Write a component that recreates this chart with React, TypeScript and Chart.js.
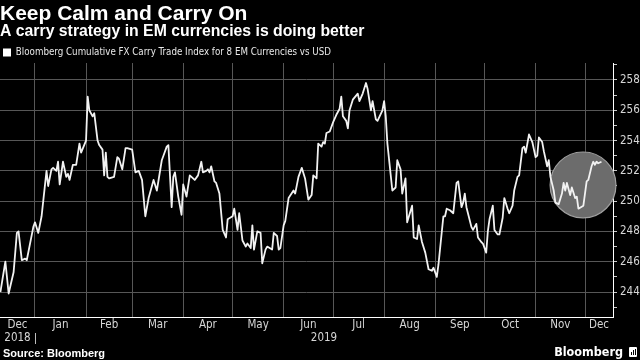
import React, { useEffect, useRef } from "react";
import { Chart, registerables } from "chart.js";

Chart.register(...registerables);

const TITLE = "Keep Calm and Carry On";
const SUBTITLE = "A carry strategy in EM currencies is doing better";
const SERIES_NAME = "Bloomberg Cumulative FX Carry Trade Index for 8 EM Currencies vs USD";
const SOURCE = "Source: Bloomberg";
const BRAND = "Bloomberg";

// x values: days since 2019-01-01 (negative = December 2018)
const dayOffsets = [
  -21, -18, -16, -13, -11, -10, -8, -6, -5, -1, 0, 2, 4, 7, 8, 10, 11, 13, 14, 15, 17, 19, 20, 21, 23, 25, 27, 28,
  31, 32, 33, 35, 36, 38, 39, 41, 42, 43, 44, 45, 48, 50, 51, 53, 55, 56, 59, 61, 63, 65, 67, 69, 72, 74, 77, 78,
  80, 81, 83, 84, 85, 87, 89, 90, 92, 94, 95, 97, 99, 101, 102, 104, 105, 106, 107, 109, 110, 112, 114, 116, 117,
  120, 121, 123, 124, 126, 128, 129, 131, 132, 133, 135, 137, 138, 140, 141, 144, 145, 147, 148, 149, 151, 152,
  154, 157, 158, 160, 162, 164, 166, 168, 169, 171, 172, 174, 175, 176, 177, 179, 181, 183, 185, 186, 187, 189,
  190, 191, 193, 196, 197, 199, 201, 202, 204, 205, 207, 208, 211, 212, 213, 214, 217, 219, 220, 222, 223, 225,
  226, 229, 230, 232, 233, 235, 237, 239, 241, 242, 244, 245, 248, 249, 250, 252, 254, 256, 257, 259, 260, 261,
  262, 265, 266, 268, 269, 271, 272, 274, 275, 276, 278, 279, 281, 282, 284, 285, 287, 288, 290, 291, 293, 294,
  296, 297, 298, 300, 302, 303, 304, 305, 306, 308, 309, 311, 312, 313, 315, 316, 318, 320, 321, 322, 323, 325,
  326, 328, 329, 330, 333, 335, 336, 338, 339, 340, 341, 342, 344,
];

const indexValues = [
  244.0, 246.0, 243.9, 245.3, 247.9, 248.0, 246.1, 246.2, 246.1, 248.3, 248.6, 247.9, 249.0, 252.0, 251.0, 252.1,
  252.2, 252.0, 252.6, 251.1, 252.6, 251.6, 251.8, 251.4, 252.4, 252.4, 253.8, 253.2,
  254.0, 256.9, 256.0, 255.6, 255.8, 254.0, 253.7, 253.4, 251.7, 253.2, 251.6, 251.5, 251.6, 252.9, 252.8, 252.1,
  253.5, 253.5, 253.4, 251.9, 252.0, 251.4, 249.0, 250.2, 251.4, 250.7, 252.7, 253.0,
  253.6, 253.7, 249.6, 251.6, 251.9, 250.3, 249.1, 251.1, 250.3, 251.7, 251.6, 251.4, 251.7, 252.6, 251.9, 252.0,
  252.1, 251.9, 252.3, 251.3, 251.2, 250.5, 248.1, 247.6, 248.8,
  249.0, 249.5, 248.1, 249.2, 247.4, 247.0, 247.2, 246.9, 248.4, 246.8, 248.0, 247.9, 245.9, 246.8, 247.0, 246.8,
  247.9, 247.7, 246.8, 246.9, 248.4, 248.7,
  250.2, 250.7, 250.5, 251.6, 252.2, 251.5, 250.1, 250.4, 251.7, 251.5, 253.8, 253.6, 253.9, 253.8, 254.5, 254.6,
  255.2, 255.7, 256.1, 256.9, 255.6, 255.3,
  254.8, 256.0, 256.7, 257.1, 256.6, 257.1, 257.8, 257.4, 256.0, 256.6, 255.4, 255.3, 256.0, 256.6, 255.6, 253.8,
  250.7, 250.9, 252.7, 252.1, 250.5, 251.5,
  248.6, 249.7, 247.6, 247.5, 248.4, 247.3, 246.6, 245.5, 245.4, 245.6, 245.0, 245.8, 249.0, 249.0, 249.5, 249.4,
  249.2, 251.2, 251.3, 249.6, 249.9, 250.5,
  249.6, 248.3, 248.1, 248.5, 247.6, 247.3, 247.2, 246.6, 248.0, 248.8, 249.7, 248.1, 247.8, 247.8, 248.9, 250.2,
  249.5, 249.2, 249.7, 250.7, 251.6, 251.7,
  253.5, 253.6, 253.2, 254.4, 253.9, 253.4, 252.9, 253.0, 254.2, 253.9, 253.3, 252.3, 252.7, 251.6, 250.7, 249.9,
  249.8, 250.5, 251.2, 250.7, 251.2, 250.4,
  250.9, 250.2, 250.3, 249.5, 249.7, 251.3, 251.4, 252.3, 252.6, 252.4, 252.6, 252.5, 252.6,
];

// first day of each month of 2019, as days since 2019-01-01
const monthStarts = [0, 31, 59, 90, 120, 151, 181, 212, 243, 273, 304, 334];
const monthNames = ["Dec", "Jan", "Feb", "Mar", "Apr", "May", "Jun", "Jul", "Aug", "Sep", "Oct", "Nov", "Dec"];
const yearNames = ["2018", "2019"];
const X_MIN = -21.25;
const X_MAX = 351;

const Y_MIN = 242.35;
const Y_MAX = 259.12;
const yTickValues = [243, 244, 245, 246, 247, 248, 249, 250, 251, 252, 253, 254, 255, 256, 257, 258, 259];

// highlighted region (data units)
const highlightCenterDay = 332.8;
const highlightCenterValue = 251.07;
const highlightRadiusDays = 20;

const NARROW = '"Liberation Sans Narrow", "Arial Narrow", "DejaVu Sans Condensed", sans-serif';
const SANS = '"Liberation Sans", Arial, sans-serif';
const GRID = "#575757";

export default function App() {
  const canvasRef = useRef<HTMLCanvasElement | null>(null);

  useEffect(() => {
    if (!canvasRef.current) return;

    const bounds = [X_MIN, ...monthStarts, X_MAX];
    const labelMap = new Map<number, string | string[]>();
    monthNames.forEach((m, i) => {
      const mid = (bounds[i] + bounds[i + 1]) / 2;
      labelMap.set(mid, i === 0 ? [m, yearNames[0]] : m);
    });
    labelMap.set((0 + X_MAX) / 2, ["", yearNames[1]]);
    const monthSet = new Set(monthStarts);
    const xTickVals = [...monthStarts, ...Array.from(labelMap.keys())].sort((a, b) => a - b);

    const circlePlugin = {
      id: "highlightCircle",
      beforeDatasetsDraw(chart: any) {
        const { ctx, scales } = chart;
        const cx = scales.x.getPixelForValue(highlightCenterDay);
        const cy = scales.y.getPixelForValue(highlightCenterValue);
        const r = Math.abs(scales.x.getPixelForValue(highlightCenterDay + highlightRadiusDays) - cx);
        ctx.save();
        ctx.beginPath();
        ctx.arc(cx, cy, r, 0, Math.PI * 2);
        ctx.fillStyle = "#6c6c6c";
        ctx.fill();
        ctx.lineWidth = 1.2;
        ctx.strokeStyle = "#a0a0a0";
        ctx.stroke();
        ctx.restore();
      },
    };

    const separatorPlugin = {
      id: "yearSeparator",
      afterDraw(chart: any) {
        const { ctx, scales } = chart;
        const x = Math.round(scales.x.getPixelForValue(0)) + 0.5;
        const top = scales.x.top;
        ctx.save();
        ctx.strokeStyle = "#bdbdbd";
        ctx.lineWidth = 1;
        ctx.beginPath();
        ctx.moveTo(x, top + 16);
        ctx.lineTo(x, top + 27);
        ctx.stroke();
        ctx.restore();
      },
    };

    const chart = new Chart(canvasRef.current, {
      type: "line",
      data: {
        datasets: [
          {
            label: SERIES_NAME,
            data: dayOffsets.map((d, i) => ({ x: d, y: indexValues[i] })),
            borderColor: "#f2f2f2",
            backgroundColor: "#ffffff",
            borderWidth: 1.8,
            pointRadius: 0,
            tension: 0,
            borderJoinStyle: "round",
          },
        ],
      },
      options: {
        animation: false,
        responsive: false,
        devicePixelRatio: 1,
        layout: { padding: { left: 0, right: 0, top: 0, bottom: 13 } },
        plugins: {
          tooltip: { enabled: false },
          title: {
            display: true,
            text: TITLE,
            align: "start",
            color: "#ffffff",
            font: { family: SANS, size: 21, weight: "bold", lineHeight: 1 },
            padding: { top: 3.5, bottom: 0 },
          },
          subtitle: {
            display: true,
            text: SUBTITLE,
            align: "start",
            color: "#ffffff",
            font: { family: SANS, size: 15.8, weight: "bold", lineHeight: 0.85 },
            padding: { top: 0, bottom: 6.6 },
          },
          legend: {
            display: true,
            align: "start",
            maxHeight: 18.47,
            labels: {
              color: "#e8e8e8",
              boxWidth: 8,
              boxHeight: 8,
              padding: 3,
              font: { family: NARROW, size: 9.7 },
              generateLabels(chart: any) {
                const items = Chart.defaults.plugins.legend.labels.generateLabels(chart);
                return items.map((it: any) => ({ ...it, fillStyle: "#ffffff", lineWidth: 0, strokeStyle: "#ffffff" }));
              },
            },
          },
        },
        scales: {
          x: {
            type: "linear",
            min: X_MIN,
            max: X_MAX,
            afterBuildTicks(scale: any) {
              scale.ticks = xTickVals.map((v) => ({ value: v }));
            },
            afterFit(scale: any) {
              scale.height = 30;
            },
            ticks: {
              autoSkip: false,
              maxRotation: 0,
              minRotation: 0,
              padding: 1.5,
              color: "#d6d6d6",
              font: { family: NARROW, size: 11.5, lineHeight: "13px" },
              callback(value: any) {
                const l = labelMap.get(Number(value));
                return l === undefined ? "" : l;
              },
            },
            grid: {
              drawTicks: false,
              color: (ctx: any) => (ctx.tick && monthSet.has(ctx.tick.value) ? GRID : "rgba(0,0,0,0)"),
              lineWidth: 1,
            },
            border: { display: true, color: "#ffffff", width: 1 },
          },
          y: {
            type: "linear",
            position: "right",
            min: Y_MIN,
            max: Y_MAX,
            afterBuildTicks(scale: any) {
              scale.ticks = yTickValues.map((v) => ({ value: v }));
            },
            afterFit(scale: any) {
              scale.width = 27;
            },
            ticks: {
              autoSkip: false,
              padding: 3,
              color: "#d6d6d6",
              font: { family: NARROW, size: 11.5, lineHeight: "13px" },
              callback(value: any) {
                const v = Number(value);
                return v % 2 === 0 ? String(v) : "";
              },
            },
            grid: {
              drawTicks: true,
              tickLength: 4,
              color: (ctx: any) =>
                ctx.tick && ctx.tick.value % 2 === 0 && ctx.tick.value >= 244 && ctx.tick.value <= 258
                  ? GRID
                  : "rgba(0,0,0,0)",
              tickColor: "#c8c8c8",
              lineWidth: 1,
            },
            border: { display: true, color: "#ffffff", width: 1 },
          },
        },
      },
      plugins: [circlePlugin, separatorPlugin],
    } as any);

    return () => chart.destroy();
  }, []);

  return (
    <div style={{ position: "fixed", left: 0, top: 0, width: 640, height: 360, background: "#000", overflow: "hidden" }}>
      <canvas ref={canvasRef} width={640} height={360} style={{ display: "block", position: "absolute", left: 0, top: 0 }} />
      <div
        style={{
          position: "absolute",
          left: 3,
          top: 347.7,
          fontFamily: SANS,
          fontWeight: "bold",
          fontSize: 11,
          lineHeight: "11px",
          color: "#ffffff",
          whiteSpace: "nowrap",
        }}
      >
        {SOURCE}
      </div>
      <div
        style={{
          position: "absolute",
          right: 3,
          top: 345,
          fontFamily: NARROW,
          fontWeight: "bold",
          fontSize: 12.5,
          lineHeight: "13px",
          color: "#ffffff",
          whiteSpace: "nowrap",
          display: "flex",
          alignItems: "center",
        }}
      >
        <span>{BRAND}</span>
        <span
          style={{
            display: "inline-block",
            width: 8,
            height: 10,
            marginLeft: 6,
            background: "#ffffff",
            borderRadius: 1,
            position: "relative",
          }}
        >
          <span style={{ position: "absolute", left: 2, top: 5, width: 1, height: 3, background: "#000" }} />
          <span style={{ position: "absolute", left: 4, top: 3, width: 1, height: 5, background: "#000" }} />
          <span style={{ position: "absolute", left: 6, top: 2, width: 1, height: 6, background: "#000" }} />
        </span>
      </div>
    </div>
  );
}
